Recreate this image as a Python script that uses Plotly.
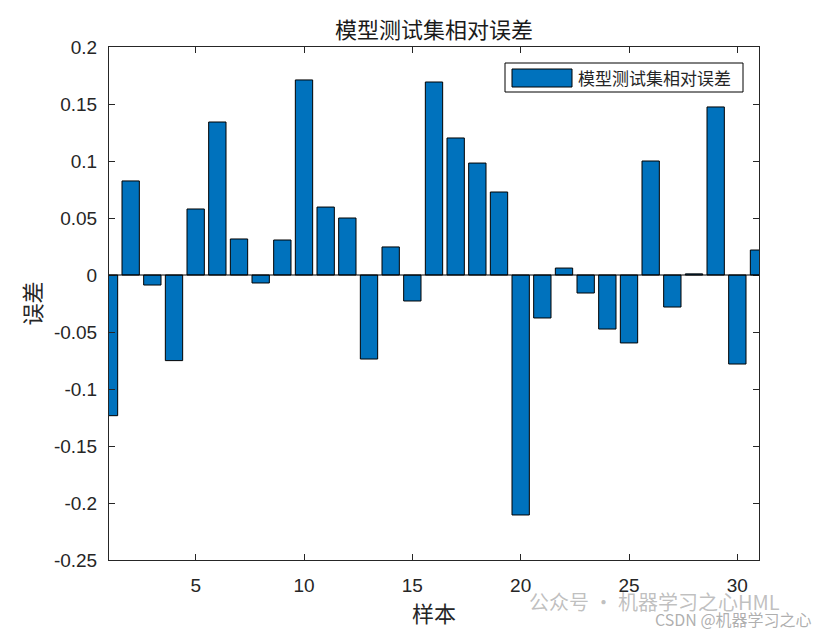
import plotly.graph_objects as go

samples = list(range(1, 32))
rel_error = [-0.1234, 0.0825, -0.0088, -0.0751, 0.0579, 0.1342, 0.0316, -0.0070,
             0.0307, 0.1711, 0.0596, 0.0500, -0.0737, 0.0246, -0.0228, 0.1693,
             0.1202, 0.0982, 0.0728, -0.2105, -0.0377, 0.0061, -0.0158, -0.0474,
             -0.0596, 0.1000, -0.0281, 0.0010, 0.1474, -0.0781, 0.0219]
series_name = "模型测试集相对误差"
x_ticks = [5, 10, 15, 20, 25, 30]
y_ticks = [-0.25, -0.2, -0.15, -0.1, -0.05, 0, 0.05, 0.1, 0.15, 0.2]
y_ticktext = ["-0.25", "-0.2", "-0.15", "-0.1", "-0.05", "0", "0.05", "0.1", "0.15", "0.2"]

BLUE = "#0072BD"
CJK = "Noto Sans CJK SC"
LAT = "Liberation Sans, Arial, sans-serif"

fig = go.Figure()
fig.add_trace(go.Bar(x=samples, y=rel_error, name=series_name,
                     marker=dict(color=BLUE, line=dict(color="black", width=1)),
                     width=0.8, showlegend=False))

# baseline at zero
fig.add_shape(type="line", xref="paper", yref="y", x0=0, x1=1, y0=0, y1=0,
              line=dict(color="black", width=1))

# custom legend (MATLAB style)
fig.add_shape(type="rect", xref="paper", yref="paper",
              x0=(505 - 109) / 650, x1=(743 - 109) / 650,
              y0=1 - (92 - 47) / 513, y1=1 - (63 - 47) / 513,
              line=dict(color="black", width=1), fillcolor="white")
fig.add_shape(type="rect", xref="paper", yref="paper",
              x0=(512 - 109) / 650, x1=(572 - 109) / 650,
              y0=1 - (87 - 47) / 513, y1=1 - (69 - 47) / 513,
              line=dict(color="black", width=1), fillcolor=BLUE)
fig.add_annotation(text=series_name, xref="paper", yref="paper",
                   x=(576 - 109) / 650, y=1 - (78 - 47) / 513,
                   xanchor="left", yanchor="middle", showarrow=False,
                   font=dict(family=CJK, size=17, color="#262626"))

# watermarks
fig.add_annotation(text="公众号 · 机器学习之心HML", xref="paper", yref="paper",
                   x=(527 - 109) / 650, y=1 - (601 - 47) / 513,
                   xanchor="left", yanchor="middle", showarrow=False,
                   font=dict(family=CJK, size=20, color="rgba(150,150,150,0.6)"))
fig.add_annotation(text="CSDN @机器学习之心", xref="paper", yref="paper",
                   x=(814 - 109) / 650, y=1 - (619 - 47) / 513,
                   xanchor="right", yanchor="middle", showarrow=False,
                   font=dict(family=CJK, size=16, color="rgba(140,140,140,0.7)"))

fig.update_layout(
    width=840, height=630,
    margin=dict(l=109, r=81, t=47, b=70),
    paper_bgcolor="white", plot_bgcolor="white",
    title=dict(text=series_name, x=(434) / 840, xanchor="center",
               y=1 - 30 / 630, yanchor="middle",
               font=dict(family=CJK, size=22, color="#1a1a1a")),
    bargap=0.2,
    showlegend=False,
)
fig.update_xaxes(range=[1, 31], tickvals=x_ticks, ticks="inside", ticklen=6,
                 tickcolor="#262626", showline=True, linecolor="#262626", linewidth=1,
                 mirror="ticks", showgrid=False, zeroline=False,
                 ticklabelstandoff=8,
                 tickfont=dict(family=LAT, size=19, color="#262626"),
                 title=dict(text="样本", standoff=4,
                            font=dict(family=CJK, size=22, color="#262626")))
fig.update_yaxes(range=[-0.25, 0.2], tickvals=y_ticks, ticktext=y_ticktext,
                 ticks="inside", ticklen=6, tickcolor="#262626",
                 showline=True, linecolor="#262626", linewidth=1,
                 mirror="ticks", showgrid=False, zeroline=False,
                 ticklabelstandoff=7,
                 tickfont=dict(family=LAT, size=19, color="#262626"),
                 title=dict(text="误差", standoff=6,
                            font=dict(family=CJK, size=22, color="#262626")))

fig.write_html("out.html")
